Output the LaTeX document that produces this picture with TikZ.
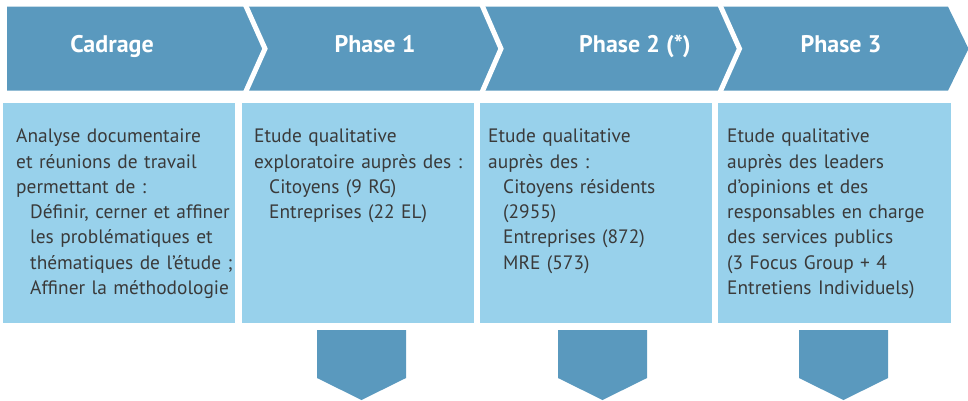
\documentclass[tikz,border=0pt]{standalone}
\usepackage{fontspec}
\setmainfont{PT Sans}
\definecolor{hdr}{HTML}{5A99BE}
\definecolor{bx}{HTML}{98D1EB}
\definecolor{txt}{HTML}{3A3A3A}
\begin{document}
\begin{tikzpicture}[x=1pt,y=-1pt,
  hdrtext/.style={font=\fontsize{24}{28}\selectfont\bfseries, text=white, inner sep=0, anchor=base},
  bodytext/.style={font=\fontsize{19.4}{25.3}\selectfont, text=txt, inner sep=0, anchor=base west, text width=225pt, align=left},
  sep/.style={draw=white, line width=5pt, line join=miter},
  panel/.style={fill=bx},
  downarrow/.style={fill=hdr}]
\useasboundingbox (0,0) rectangle (968,400);
\clip (0,0) rectangle (968,400);
% header band
\fill[hdr] (7,6.7) -- (948,6.7) -- (968.5,48.7) -- (948,90.7) -- (7,90.7) -- cycle;
\draw[sep] (245,4) -- (265,48.7) -- (245,93.4);
\draw[sep] (481.5,4) -- (501,48.7) -- (481.5,93.4);
\draw[sep] (719.5,4) -- (739.5,48.7) -- (719.5,93.4);
\node[hdrtext] (h1) at (112,52.3) {Cadrage};
\node[hdrtext] (h2) at (375,52.3) {Phase 1};
\node[hdrtext] (h3) at (635,52.3) {Phase 2 (*)};
\node[hdrtext] (h4) at (841,52.3) {Phase 3};
% panels
\fill[panel] (3,103) rectangle (234.5,322.5);
\fill[panel] (241.5,103) rectangle (474,322.5);
\fill[panel] (480,103) rectangle (712,322.5);
\fill[panel] (718,103) rectangle (951,322.5);
% texts
\node[bodytext] (t1) at (16,142.7) {Analyse documentaire\\
et réunions de travail\\
permettant de :\\
\hspace*{14pt}Définir, cerner et affiner\\
\hspace*{14pt}les problématiques et\\
\hspace*{14pt}thématiques de l’étude ;\\
\hspace*{14pt}Affiner la méthodologie};
\node[bodytext] (t2) at (254,142.7) {Etude qualitative\\
exploratoire auprès des :\\
\hspace*{15pt}Citoyens (9 RG)\\
\hspace*{15pt}Entreprises (22 EL)};
\node[bodytext] (t3) at (488,142.7) {Etude qualitative\\
auprès des :\\
\hspace*{15pt}Citoyens résidents\\
\hspace*{15pt}(2955)\\
\hspace*{15pt}Entreprises (872)\\
\hspace*{15pt}MRE (573)};
\node[bodytext] (t4) at (727,142.7) {Etude qualitative\\
auprès des leaders\\
d’opinions et des\\
responsables en charge\\
des services publics\\
(3 Focus Group + 4\\
Entretiens Individuels)};
% down arrows
\fill[downarrow] (317,330) -- (406,330) -- (406,378) -- (361.5,400) -- (317,378) -- cycle;
\fill[downarrow] (558,330) -- (647,330) -- (647,378) -- (602.5,400) -- (558,378) -- cycle;
\fill[downarrow] (799,330) -- (888,330) -- (888,378) -- (843.5,400) -- (799,378) -- cycle;
\end{tikzpicture}
\end{document}
